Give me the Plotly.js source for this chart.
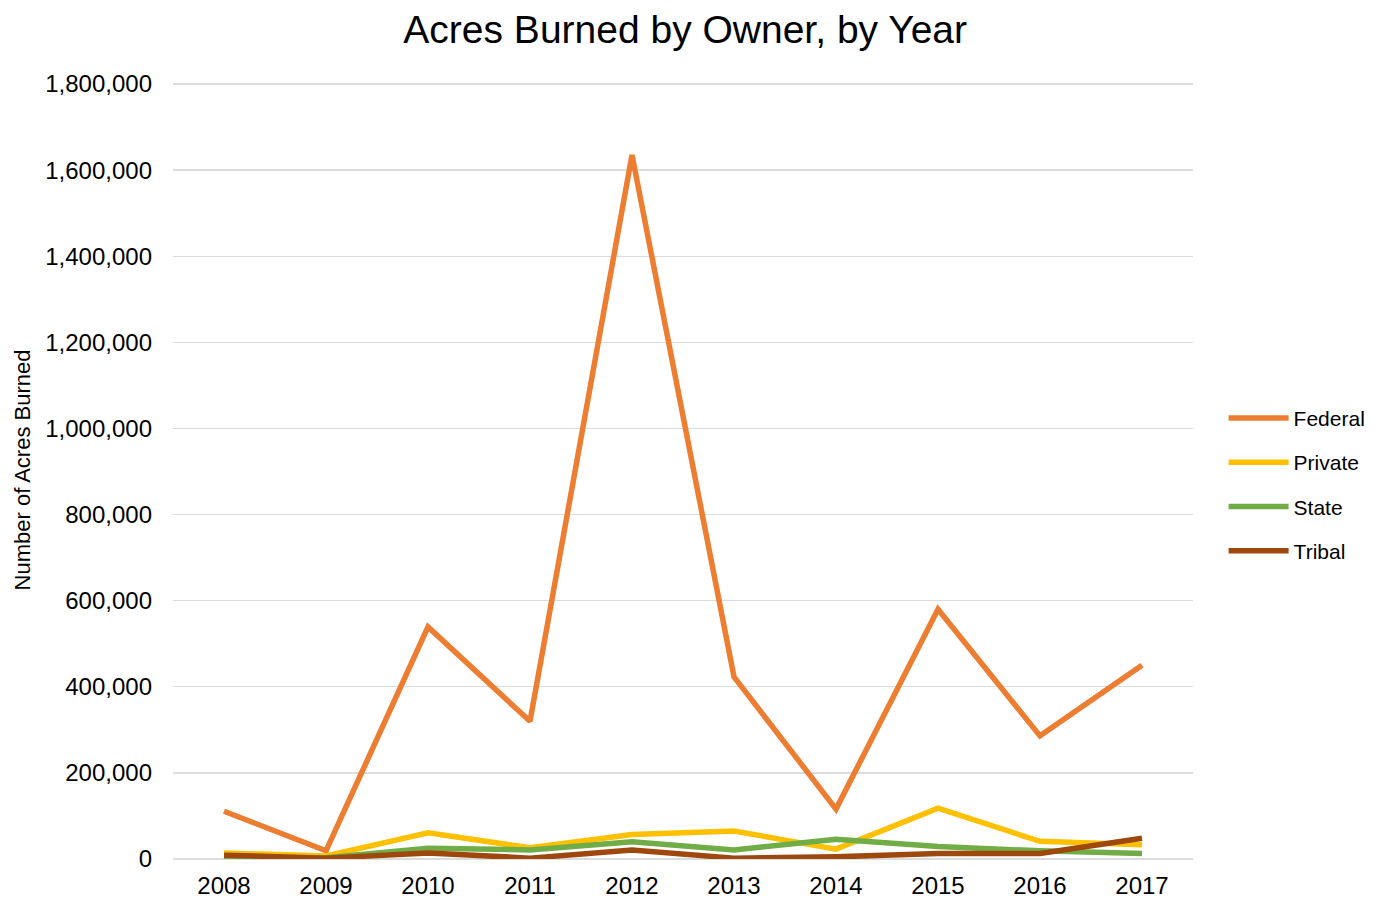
<!DOCTYPE html>
<html>
<head>
<meta charset="utf-8">
<script src="https://cdn.plot.ly/plotly-3.0.1.min.js"></script>
<style>html,body{margin:0;padding:0;background:#fff}#chart{width:1387px;height:903px}</style>
</head>
<body>
<div id="chart"></div>
<script>
const years = ["2008","2009","2010","2011","2012","2013","2014","2015","2016","2017"];
const federal = [111000, 19000, 539000, 320000, 1635000, 423000, 116000, 580000, 286000, 450000];
const privateOwn = [14000, 7000, 61000, 26000, 57000, 65000, 23000, 118000, 41000, 33000];
const state = [4000, 3000, 25000, 21000, 40000, 21000, 46000, 29000, 19000, 13000];
const tribal = [9000, 2000, 14000, 2000, 21000, 2000, 5000, 13000, 13000, 48000];
const seriesNames = ["Federal", "Private", "State", "Tribal"];
const seriesColors = ["#ED7D31", "#FFC000", "#70AD47", "#9E480E"];
const seriesData = [federal, privateOwn, state, tribal];

const FONT = "Liberation Sans, Arial, sans-serif";
const traces = seriesData.map((d, i) => ({
  type: "scatter", mode: "lines", x: years, y: d, name: seriesNames[i],
  legendgroup: seriesNames[i],
  line: {color: seriesColors[i], width: 5.5, shape: "linear"}
}));

const layout = {
  width: 1387, height: 903,
  margin: {l: 173, r: 194, t: 81, b: 44},
  paper_bgcolor: "#fff", plot_bgcolor: "#fff",
  title: {text: "Acres Burned by Owner, by Year", x: 0.494, xanchor: "center", y: 0.968, yanchor: "middle",
    font: {family: FONT, size: 39, color: "#000"}},
  xaxis: {type: "category", range: [-0.5, 9.5], showgrid: false, zeroline: false, showline: false,
    ticks: "", ticklabelstandoff: 10, tickfont: {family: FONT, size: 24, color: "#000"}},
  yaxis: {range: [0, 1807000], dtick: 200000, tickformat: ",d", showgrid: true, gridcolor: "#dcdcdc",
    gridwidth: 1.3, zeroline: true, zerolinecolor: "#dcdcdc", zerolinewidth: 1.3, showline: false, ticks: "", ticklabelstandoff: 20,
    tickfont: {family: FONT, size: 24, color: "#000"},
    title: {text: "Number of Acres Burned", standoff: 8, font: {family: FONT, size: 22, color: "#000"}}},
  legend: {x: 1.03, xanchor: "left", y: 0.481, yanchor: "middle", traceorder: "grouped", tracegroupgap: 14,
    font: {family: FONT, size: 21, color: "#000"}, itemwidth: 60},
  showlegend: true
};
Plotly.newPlot("chart", traces, layout, {displayModeBar: false, staticPlot: true});
</script>
</body>
</html>
